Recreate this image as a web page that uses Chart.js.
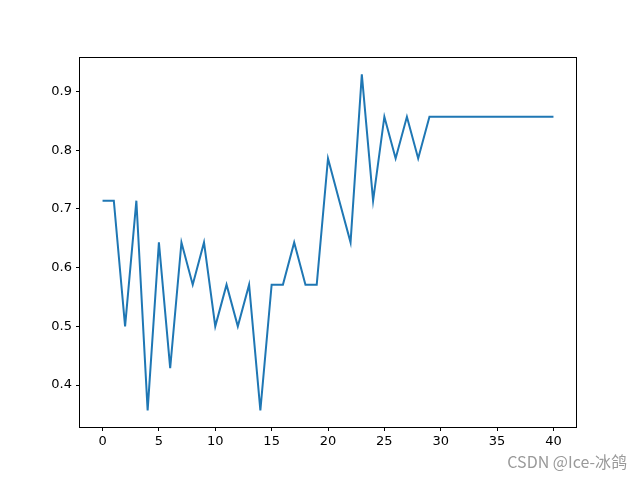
<!DOCTYPE html>
<html>
<head>
<meta charset="utf-8">
<script src="https://cdn.jsdelivr.net/npm/chart.js@4/dist/chart.umd.min.js"></script>
<style>
  html, body { margin: 0; padding: 0; background: #fff; }
  #wrap { width: 640px; height: 480px; }
</style>
</head>
<body>
<div id="wrap"><canvas id="myChart" width="640" height="480"></canvas></div>
<script>
// accuracy per epoch
var epochs = [];
for (var i = 0; i <= 40; i++) epochs.push(i);
var accuracy = [
  0.714, 0.714, 0.5, 0.714, 0.357, 0.643, 0.429, 0.643, 0.571, 0.643,
  0.5, 0.571, 0.5, 0.571, 0.357, 0.571, 0.571, 0.643, 0.571, 0.571,
  0.786, 0.714, 0.643, 0.929, 0.714, 0.857, 0.786, 0.857, 0.786, 0.857,
  0.857, 0.857, 0.857, 0.857, 0.857, 0.857, 0.857, 0.857, 0.857, 0.857,
  0.857
];
var xTicks = [0, 5, 10, 15, 20, 25, 30, 35, 40];
var yTicks = [0.4, 0.5, 0.6, 0.7, 0.8, 0.9];
var watermark = "CSDN @Ice-冰鸽";

var points = epochs.map(function (e, i) { return { x: e, y: accuracy[i] }; });

// box round the plot area plus the watermark
var framePlugin = {
  id: 'frame',
  afterDraw: function (chart) {
    var c = chart.ctx, a = chart.chartArea;
    c.save();
    c.strokeStyle = '#000';
    c.lineWidth = 1;
    c.strokeRect(a.left - 0.5, a.top - 0.5, a.right - a.left + 1, a.bottom - a.top + 1);
    c.font = '16px "Noto Sans CJK SC", "DejaVu Sans", sans-serif';
    c.fillStyle = '#9a9a9a';
    c.textAlign = 'right';
    c.textBaseline = 'middle';
    c.fillText(watermark, 627, 462);
    c.restore();
  }
};

var ctx = document.getElementById('myChart').getContext('2d');
var chart = new Chart(ctx, {
  type: 'line',
  data: {
    datasets: [{
      data: points,
      borderColor: '#1f77b4',
      borderWidth: 2,
      pointRadius: 0,
      tension: 0,
      fill: false
    }]
  },
  options: {
    responsive: false,
    animation: false,
    layout: { padding: { left: 0, right: 64, top: 58, bottom: 0 } },
    plugins: { legend: { display: false }, tooltip: { enabled: false } },
    scales: {
      x: {
        type: 'linear',
        min: -2,
        max: 42,
        afterBuildTicks: function (s) { s.ticks = xTicks.map(function (v) { return { value: v }; }); },
        afterFit: function (s) { s.height = 53; },
        grid: { drawOnChartArea: false, drawTicks: true, tickLength: 4, color: '#000' },
        border: { display: false },
        ticks: {
          color: '#000',
          padding: 3,
          maxRotation: 0,
          font: { family: '"DejaVu Sans", sans-serif', size: 13 },
          callback: function (v) { return String(v); }
        }
      },
      y: {
        min: 0.3286,
        max: 0.957,
        afterBuildTicks: function (s) { s.ticks = yTicks.map(function (v) { return { value: v }; }); },
        afterFit: function (s) { s.width = 80; },
        grid: { drawOnChartArea: false, drawTicks: true, tickLength: 4, color: '#000' },
        border: { display: false },
        ticks: {
          color: '#000',
          padding: 4,
          font: { family: '"DejaVu Sans", sans-serif', size: 13 },
          callback: function (v) { return v.toFixed(1); }
        }
      }
    }
  },
  plugins: [framePlugin]
});
</script>
</body>
</html>
